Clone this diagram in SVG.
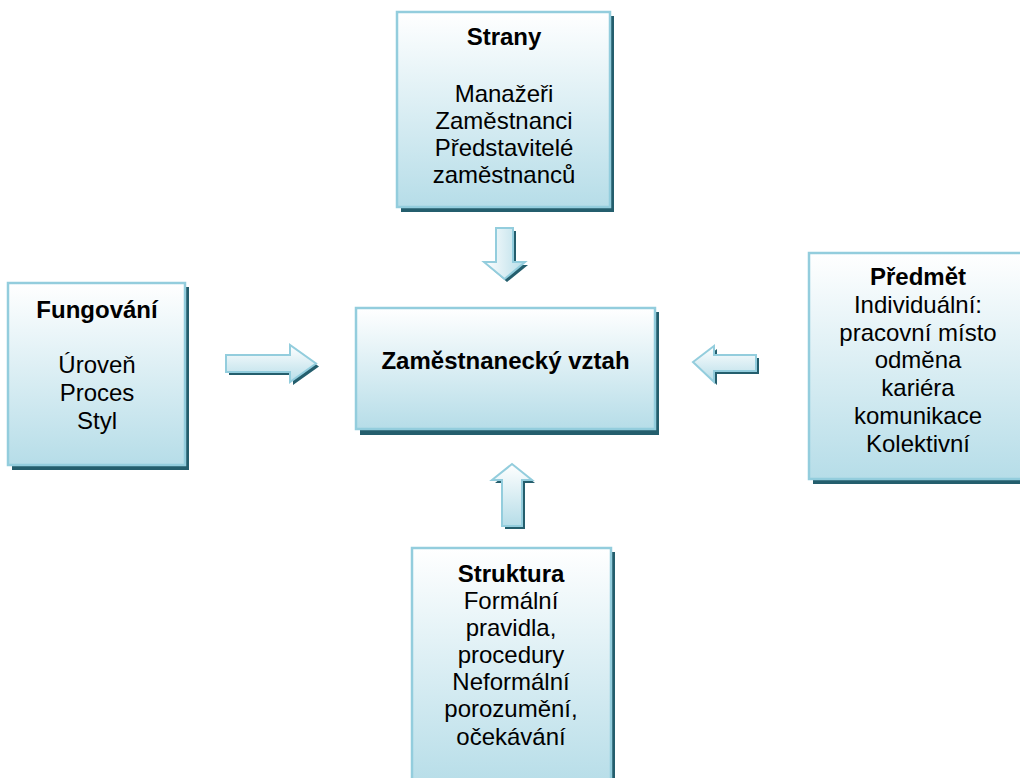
<svg xmlns="http://www.w3.org/2000/svg" width="1020" height="778" viewBox="0 0 1020 778">
  <defs>
    <linearGradient id="fillV" x1="0" y1="0" x2="0" y2="1">
      <stop offset="0" stop-color="#ffffff"/>
      <stop offset="1" stop-color="#b6dde8"/>
    </linearGradient>
    <linearGradient id="fillDown" x1="0" y1="0" x2="1" y2="0">
      <stop offset="0" stop-color="#ffffff"/>
      <stop offset="1" stop-color="#b6dde8"/>
    </linearGradient>
  </defs>
  <style>
    .shadow { fill: #245e6d; }
    .box { fill: url(#fillV); stroke: #93cddd; stroke-width: 2.5; }
    .arrow { stroke: #93cddd; stroke-width: 2; stroke-linejoin: miter; }
    text { font-family: "Liberation Sans", Arial, sans-serif; font-size: 24px; fill: #000; text-anchor: middle; }
    .title { font-weight: bold; }
  </style>

  <!-- arrows pointing into the central box -->
  <g id="connectors">
    <!-- from top -->
    <polygon class="shadow" points="499,231 516,231 516,265 528,265 507,282 487,265 499,265"/>
    <polygon class="arrow" fill="url(#fillDown)" points="496,228 513,228 513,262 525,262 504.5,279 484,262 496,262"/>
    <!-- from left -->
    <polygon class="shadow" points="229,358 293,358 293,348 319,366.5 293,385 293,375 229,375"/>
    <polygon class="arrow" fill="url(#fillV)" points="226,355 290,355 290,345 316,363.5 290,382 290,372 226,372"/>
    <!-- from right -->
    <polygon class="shadow" points="759,358 717,358 717,349 696,365 717,385 717,374 759,374"/>
    <polygon class="arrow" fill="url(#fillV)" points="756,355 714,355 714,346 693,362 714,382 714,371 756,371"/>
    <!-- from bottom -->
    <polygon class="shadow" points="515,467 535,483 525,483 525,529 505,529 505,483 495,483"/>
    <polygon class="arrow" fill="url(#fillV)" points="512,464 532,480 522,480 522,526 502,526 502,480 492,480"/>
  </g>

  <g id="node-strany">
    <rect class="shadow" x="401" y="16" width="213" height="196"/>
    <rect class="box" x="397" y="12" width="213" height="195"/>
    <text class="title" x="504" y="45">Strany</text>
    <text x="504" y="102">Manažeři</text>
    <text x="504" y="129">Zaměstnanci</text>
    <text x="504" y="156">Představitelé</text>
    <text x="504" y="183">zaměstnanců</text>
  </g>

  <g id="node-fungovani">
    <rect class="shadow" x="12" y="287" width="177" height="183"/>
    <rect class="box" x="8" y="283" width="177" height="182"/>
    <text class="title" x="97" y="318">Fungování</text>
    <text x="97" y="373">Úroveň</text>
    <text x="97" y="401">Proces</text>
    <text x="97" y="429">Styl</text>
  </g>

  <g id="node-vztah">
    <rect class="shadow" x="360" y="312" width="299" height="123"/>
    <rect class="box" x="356" y="308" width="299" height="121"/>
    <text class="title" x="505.5" y="369">Zaměstnanecký vztah</text>
  </g>

  <g id="node-predmet">
    <rect class="shadow" x="813" y="257" width="220" height="227"/>
    <rect class="box" x="809" y="253" width="220" height="226"/>
    <text class="title" x="918" y="285">Předmět</text>
    <text x="918" y="313">Individuální:</text>
    <text x="918" y="341">pracovní místo</text>
    <text x="918" y="368">odměna</text>
    <text x="918" y="396">kariéra</text>
    <text x="918" y="424">komunikace</text>
    <text x="918" y="452">Kolektivní</text>
  </g>

  <g id="node-struktura">
    <rect class="shadow" x="416" y="552" width="199" height="240"/>
    <rect class="box" x="412" y="548" width="199" height="240"/>
    <text class="title" x="511" y="582">Struktura</text>
    <text x="511" y="609">Formální</text>
    <text x="511" y="636">pravidla,</text>
    <text x="511" y="663">procedury</text>
    <text x="511" y="690">Neformální</text>
    <text x="511" y="717">porozumění,</text>
    <text x="511" y="745">očekávání</text>
  </g>
</svg>
